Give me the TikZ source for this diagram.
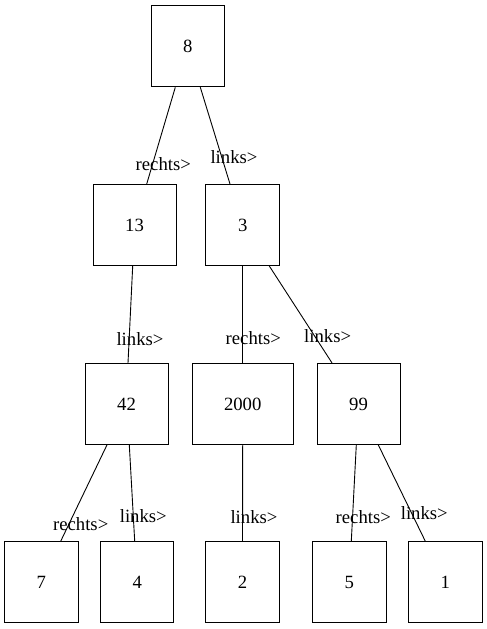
\documentclass[tikz,border=0pt]{standalone}
\usepackage{fontspec}
\setmainfont{Liberation Serif}
\begin{document}
\begin{tikzpicture}[x=1pt,y=-1pt,
  box/.style={draw,line width=1pt,minimum height=81pt,inner sep=0pt,font=\fontsize{18.7}{22}\selectfont},
  lbl/.style={inner sep=0pt,font=\fontsize{18.7}{22}\selectfont},
  conn/.style={line width=0.9pt}]
\useasboundingbox (0,0) rectangle (487,629);
\node[box,minimum width=73.5pt] (n8) at (187.8,46.3) {8};
\node[box,minimum width=83pt] (n13) at (134.5,225) {13};
\node[box,minimum width=73.5pt] (n3) at (242.7,225) {3};
\node[box,minimum width=83pt] (n42) at (126.5,403.9) {42};
\node[box,minimum width=101pt] (n2000) at (242.7,403.9) {2000};
\node[box,minimum width=83pt] (n99) at (358.5,403.9) {99};
\node[box,minimum width=73.5pt] (n7) at (41.3,582.2) {7};
\node[box,minimum width=73.5pt] (n4) at (137.2,582.2) {4};
\node[box,minimum width=73.5pt] (n2) at (242.5,582.2) {2};
\node[box,minimum width=73.5pt] (n5) at (349.3,582.2) {5};
\node[box,minimum width=73.5pt] (n1) at (445.3,582.2) {1};
\draw[conn] ([xshift=-12.5pt]n8.south) -- ([xshift=12.2pt]n13.north);
\draw[conn] ([xshift=12.5pt]n8.south) -- ([xshift=-12.7pt]n3.north);
\draw[conn] ([xshift=-1.8pt]n13.south) -- ([xshift=1.5pt]n42.north);
\draw[conn] (n3.south) -- (n2000.north);
\draw[conn] ([xshift=26.6pt]n3.south) -- ([xshift=-26.5pt]n99.north);
\draw[conn] ([xshift=-19.5pt]n42.south) -- ([xshift=19.4pt]n7.north);
\draw[conn] ([xshift=2.8pt]n42.south) -- ([xshift=-2.5pt]n4.north);
\draw[conn] (n2000.south) -- (n2.north);
\draw[conn] ([xshift=-2.2pt]n99.south) -- ([xshift=2pt]n5.north);
\draw[conn] ([xshift=19.8pt]n99.south) -- ([xshift=-20pt]n1.north);
\node[lbl] (l1) at (163.3,164) {rechts>};
\node[lbl] (l2) at (234,156.7) {links>};
\node[lbl] (l3) at (140,339) {links>};
\node[lbl] (l4) at (253.3,337.7) {rechts>};
\node[lbl] (l5) at (327.7,336) {links>};
\node[lbl] (l6) at (80.7,524.3) {rechts>};
\node[lbl] (l7) at (143.3,515.7) {links>};
\node[lbl] (l8) at (254,516.7) {links>};
\node[lbl] (l9) at (363.3,517.3) {rechts>};
\node[lbl] (l10) at (424.3,513.3) {links>};
\end{tikzpicture}
\end{document}
